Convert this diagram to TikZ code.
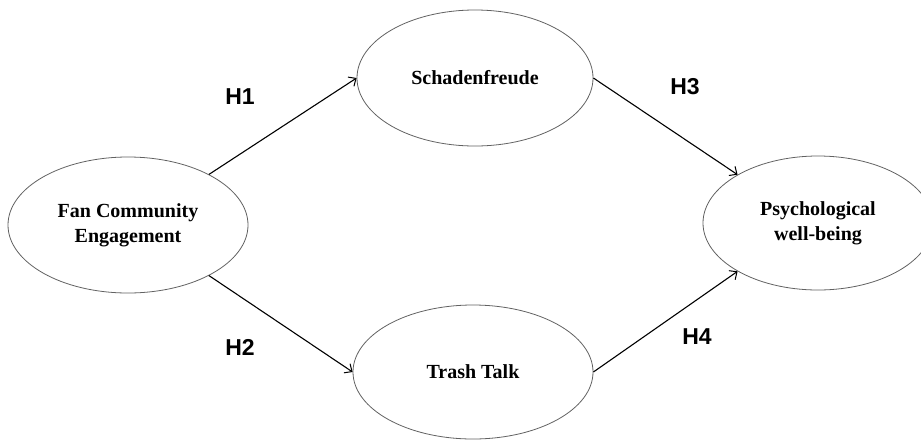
\documentclass[tikz,border=0pt]{standalone}
\usepackage{fontspec}
\setmainfont{Liberation Serif}
\newfontfamily\hfont{Liberation Sans}
\usetikzlibrary{shapes.geometric,arrows.meta}
\begin{document}
\begin{tikzpicture}[x=1pt,y=-1pt,
  construct/.style={ellipse,draw=black!62,line width=0.8pt,inner sep=0pt,align=center,
    font=\fontsize{20}{25}\selectfont\bfseries},
  path/.style={line width=1.1pt,-{Straight Barb[length=6pt,width=11pt,line width=1pt]}},
  hyp/.style={font=\hfont\fontsize{23}{23}\selectfont\bfseries}]
\useasboundingbox (0,0) rectangle (921,440);
\node[construct,minimum width=240pt,minimum height=136pt] (fce) at (128,225) {Fan Community\\Engagement};
\node[construct,minimum width=236pt,minimum height=136pt] (sch) at (475,78) {Schadenfreude};
\node[construct,minimum width=240pt,minimum height=134pt] (tt) at (473,372) {Trash Talk};
\node[construct,minimum width=230pt,minimum height=134pt] (pwb) at (818,223) {Psychological\\well-being};
\draw[path] (fce.32) -- (sch.west);
\draw[path] (fce.-32) -- (tt.west);
\draw[path] (sch.east) -- (pwb.149);
\draw[path] (tt.east) -- (pwb.211);
\node[hyp] (h1) at (240,97) {H1};
\node[hyp] (h2) at (240,347) {H2};
\node[hyp] (h3) at (685,87) {H3};
\node[hyp] (h4) at (697,337) {H4};
\end{tikzpicture}
\end{document}
